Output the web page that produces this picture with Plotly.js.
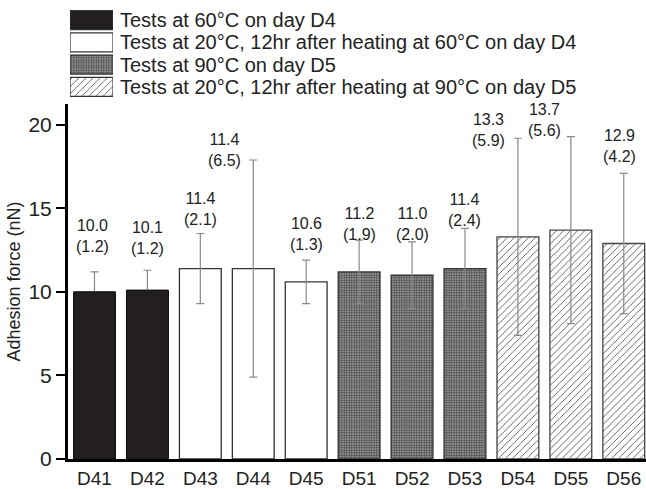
<!DOCTYPE html>
<html>
<head>
<meta charset="utf-8">
<script src="https://cdn.plot.ly/plotly-3.0.1.min.js"></script>
<style>html,body{margin:0;padding:0;background:#fff;}#chart{width:646px;height:489px;}</style>
</head>
<body>
<div id="chart"></div>
<script>
// ---- data ----
var categories = ['D41','D42','D43','D44','D45','D51','D52','D53','D54','D55','D56'];
var meanForce = [10.0, 10.1, 11.4, 11.4, 10.6, 11.2, 11.0, 11.4, 13.3, 13.7, 12.9];
var sdForce   = [1.2, 1.2, 2.1, 6.5, 1.3, 1.9, 2.0, 2.4, 5.9, 5.6, 4.2];
var groupOf   = [0, 0, 1, 1, 1, 2, 2, 2, 3, 3, 3];
var groupNames = [
  'Tests at 60°C on day D4',
  'Tests at 20°C, 12hr after heating at 60°C on day D4',
  'Tests at 90°C on day D5',
  'Tests at 20°C, 12hr after heating at 90°C on day D5'
];

// ---- label placement (layout only) ----
var labelY  = [13.35, 13.23, 14.97, 18.50, 13.47, 14.04, 14.04, 14.88, 19.70, 20.30, 18.71];
var labelDx = [-2, 0, 0, -29, 0, 0, 0, 0, -29, -26, -4];

// ---- styles ----
var FONT = '"Liberation Sans", Arial, Helvetica, sans-serif';
var TXT = '#222';
var groupMarkers = [
  {color: '#231f20', line: {color: '#111', width: 1}},
  {color: '#ffffff', line: {color: '#333', width: 1.3}},
  {color: '#8c8c8c', line: {color: '#333', width: 1.3},
   pattern: {shape: '.', bgcolor: '#a8a8a8', fgcolor: '#404040', size: 2.5, solidity: 0.5}},
  {color: '#ffffff', line: {color: '#444', width: 1.3},
   pattern: {shape: '/', bgcolor: '#ffffff', fgcolor: '#444', size: 5, solidity: 0.16}}
];
var BARW = 0.79;

var traces = [];
for (var g = 0; g < 4; g++) {
  var xs = [], ys = [], es = [];
  for (var i = 0; i < categories.length; i++) {
    if (groupOf[i] === g) { xs.push(categories[i]); ys.push(meanForce[i]); es.push(sdForce[i]); }
  }
  traces.push({
    type: 'bar', x: xs, y: ys, width: BARW, marker: groupMarkers[g],
    error_y: {type: 'data', array: es, visible: true, color: '#8a8a8a', thickness: 1.2, width: 4},
    xaxis: 'x', yaxis: 'y', showlegend: false, hoverinfo: 'skip'
  });
  if (g === 0) {
    // opaque black bars cover the lower half of their error bars
    traces.push({
      type: 'bar', x: xs, y: ys, width: BARW, marker: groupMarkers[g],
      xaxis: 'x', yaxis: 'y', showlegend: false, hoverinfo: 'skip'
    });
  }
  // legend swatch for this group (tiny subplot)
  traces.push({
    type: 'bar', orientation: 'h', x: [1], y: [g], width: 0.86,
    marker: Object.assign({}, groupMarkers[g], {line: {color: '#333', width: 1.2}}),
    xaxis: 'x2', yaxis: 'y2', showlegend: false, hoverinfo: 'skip'
  });
}

var annotations = [];
for (var k = 0; k < categories.length; k++) {
  annotations.push({
    xref: 'x', yref: 'y', x: categories[k], y: labelY[k], xshift: labelDx[k],
    text: meanForce[k].toFixed(1) + '<br>(' + sdForce[k].toFixed(1) + ')',
    showarrow: false, xanchor: 'center', yanchor: 'middle',
    font: {family: FONT, size: 16, color: TXT}
  });
}
for (var n = 0; n < groupNames.length; n++) {
  annotations.push({
    xref: 'paper', yref: 'y2', x: 0.0865, y: n, text: groupNames[n],
    showarrow: false, xanchor: 'left', yanchor: 'middle',
    font: {family: FONT, size: 20, color: TXT}
  });
}

var layout = {
  width: 646, height: 489,
  margin: {l: 68, r: 0, t: 5, b: 30, pad: 0},
  paper_bgcolor: '#fff', plot_bgcolor: 'rgba(0,0,0,0)',
  barmode: 'overlay',
  showlegend: false,
  font: {family: FONT, color: TXT},
  xaxis: {
    type: 'category', categoryorder: 'array', categoryarray: categories,
    range: [-0.5, 10.42], showline: true, linecolor: '#000', linewidth: 3,
    ticks: '', showgrid: false, zeroline: false,
    tickfont: {family: FONT, size: 19, color: TXT}, anchor: 'y'
  },
  yaxis: {
    domain: [0, 0.7819], range: [0, 21.25], anchor: 'x',
    showline: true, linecolor: '#000', linewidth: 3,
    ticks: 'outside', ticklen: 9, tickwidth: 2, tickcolor: '#000',
    tickvals: [0, 5, 10, 15, 20], showgrid: false, zeroline: false,
    tickfont: {family: FONT, size: 21, color: TXT},
    title: {text: 'Adhesion force (nN)', font: {family: FONT, size: 18, color: TXT}, standoff: 4}
  },
  xaxis2: {domain: [0.0035, 0.0779], range: [0, 1], visible: false, anchor: 'y2', fixedrange: true},
  yaxis2: {domain: [0.7952, 0.9912], range: [3.5, -0.5], visible: false, anchor: 'x2', fixedrange: true},
  annotations: annotations
};

Plotly.newPlot('chart', traces, layout, {staticPlot: true, displayModeBar: false});
</script>
</body>
</html>
